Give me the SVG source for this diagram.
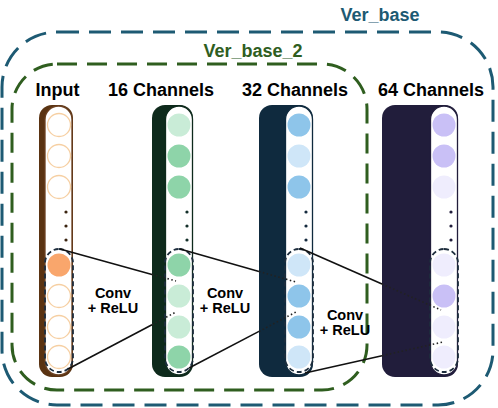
<svg xmlns="http://www.w3.org/2000/svg" width="498" height="408" viewBox="0 0 498 408">
<style>
.hdr{font-family:"Liberation Sans",Arial,sans-serif;font-weight:bold;font-size:18px;fill:#000;text-anchor:middle}
.grp{font-family:"Liberation Sans",Arial,sans-serif;font-weight:bold;font-size:18px;text-anchor:middle}
.conv{font-family:"Liberation Sans",Arial,sans-serif;font-weight:bold;font-size:14.5px;fill:#000;text-anchor:middle}
.face{fill:#fff;stroke-width:1.3}
.sel{fill:none;stroke:#1d2d3d;stroke-width:1.8;stroke-dasharray:5 3}
.ln{stroke:#111;stroke-width:1.6;fill:none}
.dt{stroke:#222;stroke-width:1.6;fill:none;stroke-dasharray:1.5 2.5}
</style>
<g id="ver_base">
<rect x="2" y="32" width="491" height="373" rx="55" fill="none" stroke="#1d5a73" stroke-width="3" stroke-dasharray="22 10"/>
<text class="grp" x="380" y="21" fill="#1d5a73">Ver_base</text>
</g>
<g id="ver_base_2">
<rect x="12" y="64" width="355" height="326" rx="45" fill="none" stroke="#2f5e1f" stroke-width="3" stroke-dasharray="20 10"/>
<text class="grp" x="253" y="57" fill="#2f5e1f">Ver_base_2</text>
</g>
<g id="headers">
<text class="hdr" x="57.5" y="96">Input</text>
<text class="hdr" x="161" y="96">16 Channels</text>
<text class="hdr" x="295" y="96">32 Channels</text>
<text class="hdr" x="431" y="96">64 Channels</text>
</g>
<g id="col-input">
<rect x="39" y="105" width="34" height="272" rx="13" fill="#5a3312"/>
<rect class="face" x="45" y="106" width="27" height="269" rx="13.5" stroke="#6b4020"/>
<g fill="#fff" stroke="#f6cfa2" stroke-width="1.3">
<circle cx="59" cy="125" r="11.5"/><circle cx="59" cy="156" r="11.5"/><circle cx="59" cy="187" r="11.5"/>
<circle cx="59" cy="296" r="11.5"/><circle cx="59" cy="327" r="11.5"/><circle cx="59" cy="357" r="11.5"/>
</g>
<circle cx="59" cy="265" r="11.5" fill="#f9a66c"/>
<g fill="#3a2410"><circle cx="66" cy="212" r="1.6"/><circle cx="66" cy="226" r="1.6"/><circle cx="66" cy="240" r="1.6"/></g>
<rect class="sel" x="45" y="249" width="28" height="123" rx="14"/>
</g>
<g id="col-16">
<rect x="152" y="105" width="41" height="272" rx="13" fill="#0e2a1c"/>
<rect class="face" x="165.5" y="106" width="27" height="269" rx="13.5" stroke="#0e2a1c"/>
<circle cx="179" cy="125" r="11.5" fill="#c9ecd7"/><circle cx="179" cy="156" r="11.5" fill="#8ed4a9"/><circle cx="179" cy="187" r="11.5" fill="#8ed4a9"/>
<circle cx="179" cy="265" r="11.5" fill="#8ed4a9"/><circle cx="179" cy="296" r="11.5" fill="#c9ecd7"/><circle cx="179" cy="327" r="11.5" fill="#c9ecd7"/><circle cx="179" cy="357" r="11.5" fill="#8ed4a9"/>
<g fill="#14302a"><circle cx="187" cy="212" r="1.6"/><circle cx="187" cy="226" r="1.6"/><circle cx="187" cy="240" r="1.6"/></g>
<rect class="sel" x="165" y="249" width="28" height="123" rx="14"/>
</g>
<g id="col-32">
<rect x="259" y="105" width="54" height="272" rx="13" fill="#0f2a3e"/>
<rect class="face" x="285.5" y="106" width="27" height="269" rx="13.5" stroke="#0f2a3e"/>
<circle cx="299" cy="125" r="11.5" fill="#8ec5ea"/><circle cx="299" cy="156" r="11.5" fill="#cfe6f8"/><circle cx="299" cy="187" r="11.5" fill="#8ec5ea"/>
<circle cx="299" cy="265" r="11.5" fill="#cfe6f8"/><circle cx="299" cy="296" r="11.5" fill="#8ec5ea"/><circle cx="299" cy="327" r="11.5" fill="#8ec5ea"/><circle cx="299" cy="357" r="11.5" fill="#cfe6f8"/>
<g fill="#152a3e"><circle cx="306" cy="212" r="1.6"/><circle cx="306" cy="226" r="1.6"/><circle cx="306" cy="240" r="1.6"/></g>
<rect class="sel" x="285" y="249" width="28" height="123" rx="14"/>
</g>
<g id="col-64">
<rect x="382" y="105" width="76" height="272" rx="13" fill="#211d3b"/>
<rect class="face" x="430.5" y="106" width="27" height="269" rx="13.5" stroke="#211d3b"/>
<circle cx="444" cy="125" r="11.5" fill="#c9c0f6"/><circle cx="444" cy="156" r="11.5" fill="#c9c0f6"/><circle cx="444" cy="187" r="11.5" fill="#efedfd"/>
<circle cx="444" cy="265" r="11.5" fill="#efedfd"/><circle cx="444" cy="296" r="11.5" fill="#c9c0f6"/><circle cx="444" cy="327" r="11.5" fill="#efedfd"/><circle cx="444" cy="357" r="11.5" fill="#efedfd"/>
<g fill="#211d3b"><circle cx="451" cy="212" r="1.6"/><circle cx="451" cy="226" r="1.6"/><circle cx="451" cy="240" r="1.6"/></g>
<rect class="sel" x="430" y="249" width="28" height="123" rx="14"/>
</g>
<g id="connectors">
<line class="ln" x1="60" y1="249" x2="152" y2="274.4"/><line class="dt" x1="152" y1="274.4" x2="176" y2="281"/>
<line class="ln" x1="68" y1="369" x2="152" y2="324.7"/><line class="dt" x1="152" y1="324.7" x2="176" y2="312"/>
<line class="ln" x1="180" y1="249" x2="259" y2="271.5"/><line class="dt" x1="259" y1="271.5" x2="296" y2="282"/>
<line class="ln" x1="189" y1="368" x2="259" y2="331.4"/><line class="dt" x1="259" y1="331.4" x2="296" y2="312"/>
<line class="ln" x1="300" y1="248" x2="382" y2="284.1"/><line class="dt" x1="382" y1="284.1" x2="441" y2="310"/>
<line class="ln" x1="305" y1="373" x2="382" y2="355.7"/><line class="dt" x1="382" y1="355.7" x2="443" y2="342"/>
</g>
<g id="conv-labels">
<text class="conv" x="113" y="298">Conv</text><text class="conv" x="113" y="313">+ ReLU</text>
<text class="conv" x="225" y="298">Conv</text><text class="conv" x="225" y="313">+ ReLU</text>
<text class="conv" x="345" y="320">Conv</text><text class="conv" x="345" y="335">+ ReLU</text>
</g>
</svg>
